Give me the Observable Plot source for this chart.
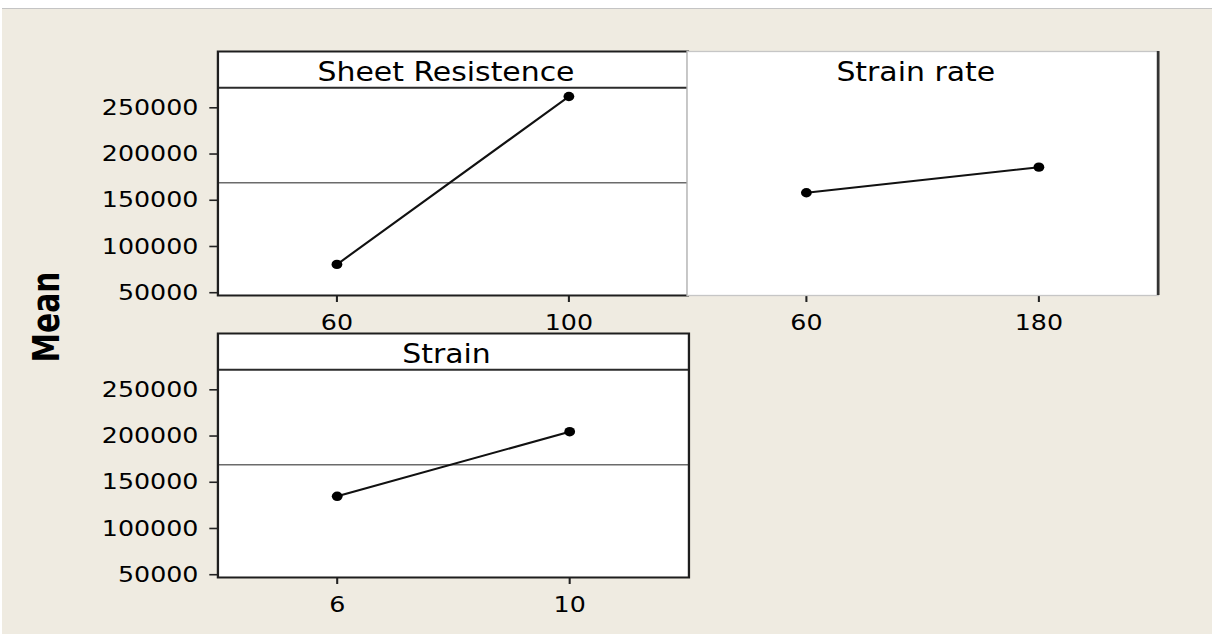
<!DOCTYPE html>
<html>
<head>
<meta charset="utf-8">
<script src="https://cdn.jsdelivr.net/npm/d3@7"></script>
<script src="https://cdn.jsdelivr.net/npm/@observablehq/plot@0.6"></script>
<style>
  html, body { margin: 0; padding: 0; background: #ffffff; }
  #page { position: relative; width: 1212px; height: 634px; overflow: hidden; }
  #sheet { position: absolute; left: 2px; top: 8px; width: 1210px; height: 626px;
           background: #efebe1; border-top: 1px solid #c4c4c4; }
  /* the whole figure is laid out in narrower units and widened horizontally */
  #stage { position: absolute; left: 0; top: 0; width: 1054px; height: 634px;
           transform: scaleX(1.15); transform-origin: 0 0; }
  #stage svg { position: absolute; }
  #ylab { position: absolute; left: 39.6px; top: 317px;
          transform: translate(-50%, -50%) rotate(-90deg);
          font: bold 33px "Liberation Sans Narrow", "DejaVu Sans Condensed", "Arial Narrow", sans-serif;
          font-stretch: condensed; color: #000; white-space: nowrap; }
</style>
</head>
<body>
<div id="page">
  <div id="sheet"></div>
  <div id="stage">
    <div id="ylab">Mean</div>
  </div>
</div>
<script>
// Main effects: mean response at the low and high level of each factor
const factorNames = ["Sheet Resistence", "Strain rate", "Strain"];
const sheetLevels = [60, 100];
const sheetMeans = [80600, 262200];
const rateLevels = [60, 180];
const rateMeans = [158100, 185800];
const strainLevels = [6, 10];
const strainMeans = [134800, 204700];
const grandMean = 169000;
const yTicks = [50000, 100000, 150000, 200000, 250000];

// shared response scale; the band above headerValue holds the panel title
const yDomain = [47000, 310900];
const headerValue = 271650;

const stage = document.getElementById("stage");
const fmt = d3.format("d");

function panel({title, levels, means, left, top, frameWidth, yAxis, light}) {
  const span = levels[1] - levels[0];
  const pad = 0.513 * span;
  const xDomain = [levels[0] - pad, levels[1] + pad];
  const rows = levels.map((level, i) => ({level, mean: means[i]}));
  const mL = yAxis ? 120 : 2, mR = 4, mT = 2, mB = 45, plotH = 244;

  const marks = [Plot.frame({fill: "white", stroke: "none"})];
  if (!light) {
    // reference line at the overall mean, and the divider under the title band
    marks.push(Plot.ruleY([grandMean], {stroke: "#6b6b6b", strokeWidth: 1.6}));
    marks.push(Plot.ruleY([headerValue], {stroke: "#2b2b2b", strokeWidth: 2}));
  }
  marks.push(
    Plot.line(rows, {x: "level", y: "mean", stroke: "#111", strokeWidth: 2}),
    Plot.dot(rows, {x: "level", y: "mean", r: 4.7, fill: "#000", stroke: "none"}),
    Plot.text([title], {frameAnchor: "top", dy: 21, dx: -6, lineAnchor: "middle",
                        fontSize: 26, fill: "#000"}),
    Plot.axisX({ticks: levels, tickSize: 7, tickPadding: 12, tickFormat: fmt,
                label: null, stroke: "#222", strokeWidth: 1.8, fill: "#000"})
  );
  if (light) {
    marks.push(Plot.frame({stroke: "#c6c6c6", strokeWidth: 1.3}));
    marks.push(Plot.ruleX([xDomain[1]], {stroke: "#333", strokeWidth: 2.4}));
  } else {
    marks.push(Plot.frame({stroke: "#1e1e1e", strokeWidth: 2}));
  }
  if (yAxis) {
    marks.push(Plot.axisY({ticks: yTicks, tickSize: 7, tickPadding: 10, tickFormat: fmt,
                           label: null, stroke: "#222", strokeWidth: 1.6, fill: "#000"}));
  }

  const svg = Plot.plot({
    width: mL + frameWidth + mR,
    height: mT + plotH + mB,
    marginLeft: mL, marginRight: mR, marginTop: mT, marginBottom: mB,
    x: {domain: xDomain},
    y: {domain: yDomain, axis: yAxis ? undefined : null},
    style: {background: "transparent", fontFamily: "'DejaVu Sans', Verdana, sans-serif",
            fontSize: "22px", color: "#000", overflow: "visible"},
    marks
  });
  svg.style.left = (left - mL) + "px";
  svg.style.top = (top - mT) + "px";
  svg.style.maxWidth = "none";
  stage.appendChild(svg);
}

panel({title: factorNames[0], levels: sheetLevels, means: sheetMeans,
       left: 188.7, top: 51, frameWidth: 408.7, yAxis: true, light: false});
panel({title: factorNames[1], levels: rateLevels, means: rateMeans,
       left: 597.4, top: 51, frameWidth: 409.6, yAxis: false, light: true});
panel({title: factorNames[2], levels: strainLevels, means: strainMeans,
       left: 188.7, top: 333, frameWidth: 409.6, yAxis: true, light: false});
</script>
</body>
</html>
